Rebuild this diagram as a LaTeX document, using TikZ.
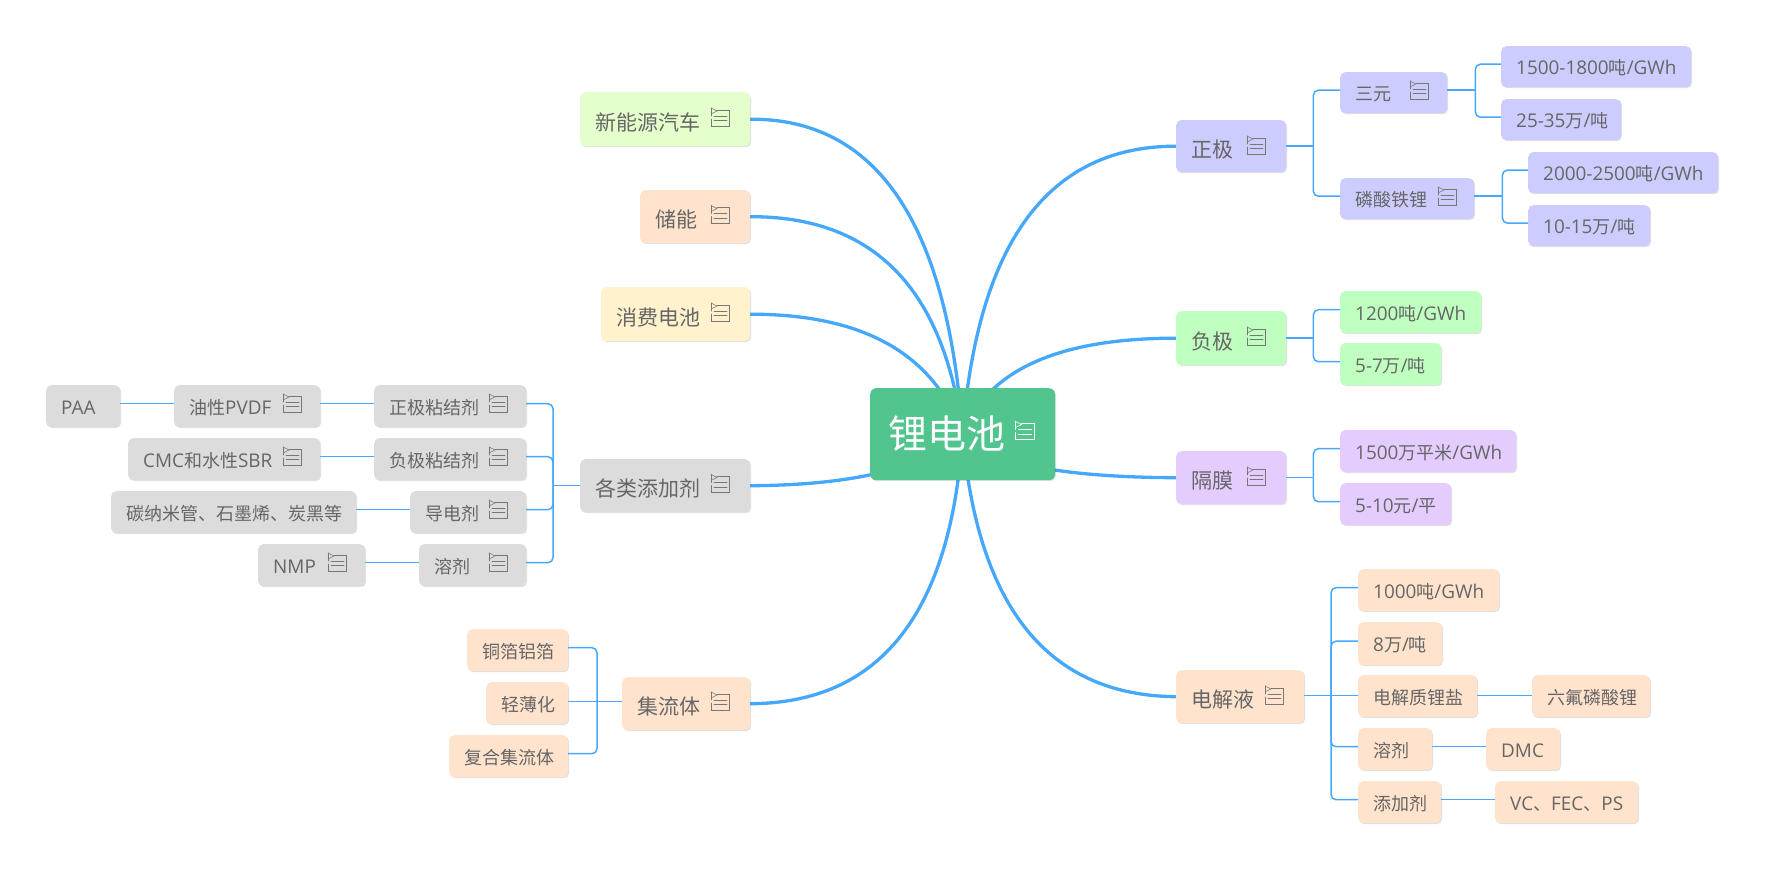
\documentclass[tikz,border=0pt]{standalone}
\usepackage{fontspec}
\setmainfont{Noto Sans CJK SC}
\newfontfamily\la[Scale=1.05]{Open Sans}
\usetikzlibrary{calc,backgrounds,shadows}
\definecolor{linec}{HTML}{45A8FC}
\definecolor{txt}{HTML}{666666}
\definecolor{iconc}{HTML}{777777}
\definecolor{cpur}{HTML}{CCCCFF}
\definecolor{cgrn}{HTML}{BFFFBF}
\definecolor{clil}{HTML}{E5CCFF}
\definecolor{corg}{HTML}{FFE3CC}
\definecolor{cgry}{HTML}{DCDCDC}
\definecolor{clim}{HTML}{E5FFCC}
\definecolor{cyel}{HTML}{FFF2CC}
\definecolor{cmain}{HTML}{52C48D}
\tikzset{
  x=1pt,y=-1pt,
  box/.style={anchor=north west,inner sep=0pt,rounded corners=5pt,text=txt,
     drop shadow={shadow xshift=1pt,shadow yshift=-1pt,opacity=.12,fill=black}},
  small/.style={box,font=\fontsize{18}{18}\selectfont,text height=16pt,text depth=.3pt},
  big/.style={box,font=\fontsize{21}{21}\selectfont,text height=22pt,text depth=0pt},
  title/.style={box,rounded corners=6pt,font=\fontsize{39}{39}\selectfont,text=white,text height=30pt,text depth=.6pt},
  curve/.style={draw=linec,line width=3.3pt},
  branch/.style={draw=linec,line width=1.5pt,rounded corners=5pt},
  icn/.style={line width=.6pt,line cap=round}
}
% \bx{style}{colour}{name}{x0}{y0}{x1}{y1}{pad}{text}
\newcommand\bx[9]{%
  \pgfmathsetlengthmacro\bw{(#6-#4-1.2)*1pt}%
  \pgfmathsetlengthmacro\bh{(#7-#5)*1pt}%
  \pgfmathsetlengthmacro\tw{(#6-#4-1.2-2*#8)*1pt}%
  \node[#1,fill=#2,minimum width=\bw,minimum height=\bh] (#3) at (#4,#5) {\makebox[\tw][l]{#9}};}
% icon centred at x,y
\newcommand\ic[3][iconc]{%
  \begin{scope}[shift={(#2,#3)},draw=#1,icn]
    \draw (-9,-10) -- (-9,-2) (-9,1) -- (-9,8) -- (9.7,8) -- (9.7,-8) -- (-3,-8);
    \draw (-9,-10) -- (-3,-7) -- (-9,-4);
    \draw (-6,-2) -- (7,-2) (-6,2.5) -- (7,2.5);
  \end{scope}}
% curve from the central node to a main topic
\newcommand\crv[4]{\draw[curve] (m.center) .. controls ($(m.center)!.667!(#3,#4)$) and ($(#1.#2)!.667!(#3,#4)$) .. (#1.#2);}
\newcommand\ep[2]{([yshift=2.5pt]#1.#2)}
\begin{document}
\begin{tikzpicture}
\useasboundingbox (0,0) rectangle (1775,872);
\bx{title}{cmain}{m}{870}{388}{1056}{480}{18}{锂电池}
% right
\bx{big}{cpur}{zj}{1176}{120}{1287}{172}{15}{正极}
\bx{small}{cpur}{sy}{1340}{72}{1448}{113}{15}{三元}
\bx{small}{cpur}{sya}{1501}{46}{1692}{87}{15}{{\la 1500-1800}吨{\la/GWh}}
\bx{small}{cpur}{syb}{1501}{99}{1622}{140}{15}{{\la 25-35}万{\la/}吨}
\bx{small}{cpur}{lsl}{1340}{178}{1475}{219}{15}{磷酸铁锂}
\bx{small}{cpur}{lsa}{1528}{152}{1719}{193}{15}{{\la 2000-2500}吨{\la/GWh}}
\bx{small}{cpur}{lsb}{1528}{205}{1651}{246}{15}{{\la 10-15}万{\la/}吨}
\bx{big}{cgrn}{fj}{1176}{311}{1287}{365}{15}{负极}
\bx{small}{cgrn}{fja}{1340}{291}{1482}{333}{15}{{\la 1200}吨{\la/GWh}}
\bx{small}{cgrn}{fjb}{1340}{343}{1442}{385}{15}{{\la 5-7}万{\la/}吨}
\bx{big}{clil}{gm}{1176}{451}{1287}{504}{15}{隔膜}
\bx{small}{clil}{gma}{1340}{430}{1517}{472}{15}{{\la 1500}万平米{\la/GWh}}
\bx{small}{clil}{gmb}{1340}{483}{1452}{525}{15}{{\la 5-10}元{\la/}平}
\bx{big}{corg}{dj}{1176}{670}{1305}{723}{15}{电解液}
\bx{small}{corg}{dja}{1358}{569}{1500}{611}{15}{{\la 1000}吨{\la/GWh}}
\bx{small}{corg}{djb}{1358}{622}{1443}{665}{15}{{\la 8}万{\la/}吨}
\bx{small}{corg}{djc}{1358}{675}{1478}{717}{15}{电解质锂盐}
\bx{small}{corg}{djd}{1532}{675}{1651}{717}{15}{六氟磷酸锂}
\bx{small}{corg}{dje}{1358}{728}{1433}{770}{15}{溶剂}
\bx{small}{corg}{djf}{1486}{728}{1561}{770}{15}{{\la DMC}}
\bx{small}{corg}{djg}{1358}{781}{1442}{823}{15}{添加剂}
\bx{small}{corg}{djh}{1495}{781}{1639}{823}{15}{{\la VC}、{\la FEC}、{\la PS}}
% left
\bx{big}{clim}{xn}{580}{92}{751}{146}{15}{新能源汽车}
\bx{big}{corg}{cn}{640}{190}{751}{243}{15}{储能}
\bx{big}{cyel}{xf}{601}{287}{751}{341}{15}{消费电池}
\bx{big}{cgry}{gl}{580}{459}{751}{512}{15}{各类添加剂}
\bx{small}{cgry}{zn}{374}{385}{527}{427}{15}{正极粘结剂}
\bx{small}{cgry}{yx}{174}{385}{321}{427}{15}{油性{\la PVDF}}
\bx{small}{cgry}{paa}{46}{385}{121}{427}{15}{{\la PAA}}
\bx{small}{cgry}{fn}{374}{438}{527}{480}{15}{负极粘结剂}
\bx{small}{cgry}{cmc}{128}{438}{321}{480}{15}{{\la CMC}和水性{\la SBR}}
\bx{small}{cgry}{dd}{410}{491}{527}{533}{15}{导电剂}
\bx{small}{cgry}{tn}{111}{491}{357}{533}{15}{碳纳米管、石墨烯、炭黑等}
\bx{small}{cgry}{rj}{419}{544}{527}{586}{15}{溶剂}
\bx{small}{cgry}{nmp}{258}{544}{366}{586}{15}{{\la NMP}}
\bx{big}{corg}{jl}{622}{677}{751}{730}{15}{集流体}
\bx{small}{corg}{jla}{467}{629}{569}{671}{15}{铜箔铝箔}
\bx{small}{corg}{jlb}{486}{682}{569}{724}{15}{轻薄化}
\bx{small}{corg}{jlc}{449}{735}{569}{777}{15}{复合集流体}
% icons
\ic[white]{1024.5}{431.5}
\ic{1256}{146}\ic{1419}{91}\ic{1447}{197}\ic{1256}{337}\ic{1256}{477}\ic{1274}{696}
\ic{720}{118}\ic{720}{215.5}\ic{720}{313}\ic{720}{484.5}\ic{720}{702}
\ic{292}{404}\ic{498}{404}\ic{292}{457}\ic{498}{457}\ic{498}{510}\ic{337}{563}\ic{498}{563}
% junctions
\coordinate (j1) at ([xshift=27.2pt]zj.east);
\coordinate (j2) at ([xshift=28.2pt,yshift=2.5pt]sy.east);
\coordinate (j3) at ([xshift=28.2pt,yshift=2.5pt]lsl.east);
\coordinate (j4) at ([xshift=27.2pt]fj.east);
\coordinate (j5) at ([xshift=27.2pt]gm.east);
\coordinate (j6) at (1331,695.7);
\coordinate (j7) at ([xshift=-27pt]gl.west);
\coordinate (j8) at (597,701.7);
\begin{scope}[on background layer]
\crv{zj}{west}{985}{146}
\crv{fj}{west}{1000}{338}
\crv{gm}{west}{1000}{477}
\crv{dj}{west}{985}{695}
\crv{xn}{east}{940}{118}
\crv{cn}{east}{935}{216}
\crv{xf}{east}{920}{314}
\crv{gl}{east}{905}{485}
\crv{jl}{east}{945}{703}
\end{scope}
% tree connectors
\draw[branch] (zj.east) -- (j1);
\draw[branch] (j1) |- \ep{sy}{west};
\draw[branch] (j1) |- \ep{lsl}{west};
\draw[branch] \ep{sy}{east} -- (j2);
\draw[branch] (j2) |- \ep{sya}{west};
\draw[branch] (j2) |- \ep{syb}{west};
\draw[branch] \ep{lsl}{east} -- (j3);
\draw[branch] (j3) |- \ep{lsa}{west};
\draw[branch] (j3) |- \ep{lsb}{west};
\draw[branch] (fj.east) -- (j4);
\draw[branch] (j4) |- \ep{fja}{west};
\draw[branch] (j4) |- \ep{fjb}{west};
\draw[branch] (gm.east) -- (j5);
\draw[branch] (j5) |- \ep{gma}{west};
\draw[branch] (j5) |- \ep{gmb}{west};
\draw[branch] (dj.east |- j6) -- (j6);
\draw[branch] (j6) |- \ep{dja}{west};
\draw[branch] (j6) |- \ep{djb}{west};
\draw[branch] (j6) -- (djc.west |- j6);
\draw[branch] (j6) |- \ep{dje}{west};
\draw[branch] (j6) |- \ep{djg}{west};
\draw[branch] (djc.east |- j6) -- (djd.west |- j6);
\draw[branch] \ep{dje}{east} -- \ep{djf}{west};
\draw[branch] \ep{djg}{east} -- \ep{djh}{west};
\draw[branch] (gl.west) -- (j7);
\draw[branch] (j7) |- \ep{zn}{east};
\draw[branch] (j7) |- \ep{fn}{east};
\draw[branch] (j7) |- \ep{dd}{east};
\draw[branch] (j7) |- \ep{rj}{east};
\draw[branch] \ep{zn}{west} -- \ep{yx}{east};
\draw[branch] \ep{yx}{west} -- \ep{paa}{east};
\draw[branch] \ep{fn}{west} -- \ep{cmc}{east};
\draw[branch] \ep{dd}{west} -- \ep{tn}{east};
\draw[branch] \ep{rj}{west} -- \ep{nmp}{east};
\draw[branch] (jl.west |- j8) -- (j8);
\draw[branch] (j8) |- \ep{jla}{east};
\draw[branch] (j8) -- (jlb.east |- j8);
\draw[branch] (j8) |- \ep{jlc}{east};
\end{tikzpicture}
\end{document}
